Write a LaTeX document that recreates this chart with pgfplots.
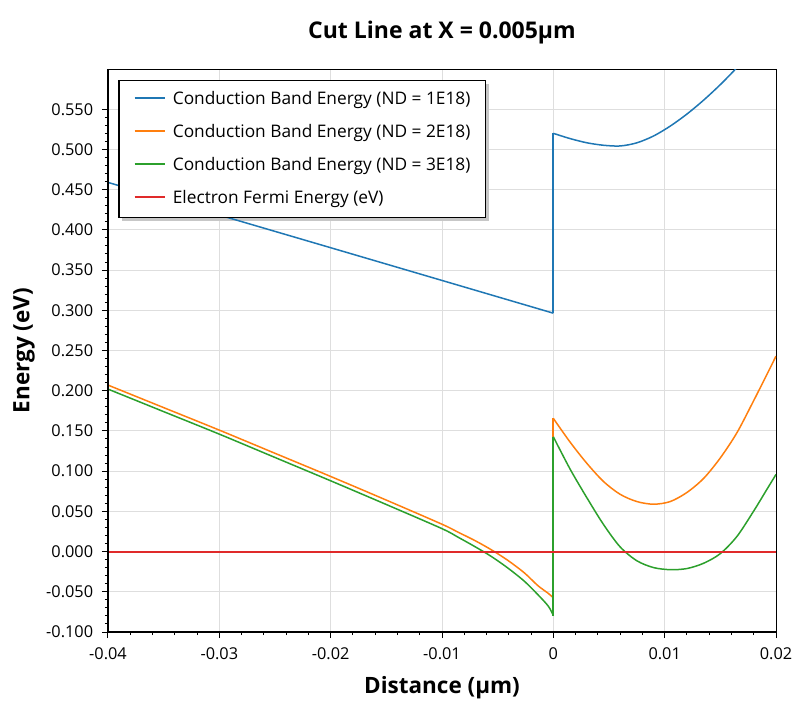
\documentclass[border=0pt]{standalone}
\usepackage{pgfplots}
\pgfplotsset{compat=1.18}
\usepackage{fontspec}
\setmainfont{Open Sans}
\definecolor{lnblue}{RGB}{31,119,180}
\definecolor{lnorange}{RGB}{255,127,14}
\definecolor{lngreen}{RGB}{44,160,44}
\definecolor{lnred}{RGB}{224,42,42}
\begin{document}
\begin{tikzpicture}
\begin{axis}[
  name=ax, at={(0,0)}, anchor=south west,
  scale only axis, width=668pt, height=563pt,
  xmin=-0.04, xmax=0.02, ymin=-0.1, ymax=0.6,
  scaled x ticks=false, scaled y ticks=false,
  xtick={-0.04,-0.03,-0.02,-0.01,0,0.01,0.02},
  xticklabels={-0.04,-0.03,-0.02,-0.01,0,0.01,0.02},
  ytick={-0.1,-0.05,0,0.05,0.1,0.15,0.2,0.25,0.3,0.35,0.4,0.45,0.5,0.55},
  yticklabels={-0.100,-0.050,0.000,0.050,0.100,0.150,0.200,0.250,0.300,0.350,0.400,0.450,0.500,0.550},
  minor x tick num=4, minor y tick num=4,
  tick align=outside, xtick pos=bottom, ytick pos=left,
  major tick length=6pt, minor tick length=3pt,
  tick style={black, line width=1pt},
  grid=major, major grid style={black!13, line width=1pt},
  axis line style={black, line width=1pt},
  ticklabel style={font=\fontsize{16.3}{16.3}\selectfont, inner sep=0pt},
  xticklabel style={yshift=-9pt},
  yticklabel style={xshift=-8.7pt},
  title={Cut Line at X = 0.005µm},
  title style={at={(axis description cs:0.5,1)}, anchor=base, yshift=24.5pt, font=\bfseries\fontsize{23}{23}\selectfont, inner sep=0pt},
  xlabel={Distance (µm)},
  xlabel style={at={(axis description cs:0.5,0)}, anchor=base, yshift=-61pt, font=\bfseries\fontsize{22.5}{22.5}\selectfont, inner sep=0pt},
  ylabel={Energy (eV)},
  ylabel style={at={(axis description cs:-0.1178,0.5)}, anchor=base, font=\bfseries\fontsize{22.5}{22.5}\selectfont, inner sep=0pt},
  legend image code/.code={\draw[#1] (0pt,6.5pt) -- (30pt,6.5pt);},
  legend style={at={(axis description cs:0.0154,0.9805)}, anchor=north west,
    draw=black, line width=1.3pt, fill=white,
    inner xsep=15pt, inner ysep=10pt, row sep=15.3pt, column sep=7.4pt,
    font=\fontsize{17.3}{17.3}\selectfont,
    cells={anchor=base west},
    nodes={inner sep=0pt, text height=13.7pt, text depth=4pt}},
]
% legend shadow
\fill[black!22] (rel axis cs:0.0214,0.7306) rectangle (rel axis cs:0.5704,0.9734);
% ND = 1E18
\addplot[draw=lnblue, line width=1.5pt, smooth] coordinates {(-0.04,0.459) (-0.03,0.4184) (-0.02,0.3778) (-0.01,0.3371) (0,0.2964)};
\addlegendentry{Conduction Band Energy (ND = 1E18)}
% ND = 2E18
\addplot[draw=lnorange, line width=1.5pt, smooth] coordinates {(-0.04,0.207) (-0.035,0.179) (-0.03,0.151) (-0.025,0.1222) (-0.02,0.0934) (-0.015,0.064) (-0.01,0.034) (-0.0086,0.0244) (-0.0071,0.0141) (-0.0056,0.0025) (-0.0041,-0.0108) (-0.0026,-0.0265) (-0.0014,-0.0422) (-0.00045,-0.052) (0,-0.0575)};
\addlegendentry{Conduction Band Energy (ND = 2E18)}
% ND = 3E18
\addplot[draw=lngreen, line width=1.5pt, smooth] coordinates {(-0.04,0.202) (-0.035,0.174) (-0.03,0.146) (-0.025,0.117) (-0.02,0.088) (-0.015,0.0585) (-0.01,0.0285) (-0.0086,0.0182) (-0.0071,0.0066) (-0.0056,-0.0058) (-0.0041,-0.0203) (-0.0026,-0.0369) (-0.0014,-0.0534) (-0.00045,-0.0679) (0,-0.0795)};
\addlegendentry{Conduction Band Energy (ND = 3E18)}
% Fermi
\addplot[draw=lnred, line width=2pt, legend image post style={line width=1.5pt}] coordinates {(-0.04,0) (0.02,0)};
\addlegendentry{Electron Fermi Energy (eV)}
% jumps and right parts
\addplot[draw=lnblue, line width=2pt, forget plot] coordinates {(0,0.2964) (0,0.520)};
\addplot[draw=lnblue, line width=1.5pt, smooth, forget plot] coordinates {(0,0.520) (0.0015,0.5135) (0.003,0.5083) (0.0045,0.5052) (0.006,0.5043) (0.0075,0.5082) (0.009,0.5167) (0.0105,0.529) (0.012,0.544) (0.0135,0.5613) (0.015,0.5806) (0.0165,0.6019) (0.018,0.625)};
\addplot[draw=lnorange, line width=2pt, forget plot] coordinates {(0,-0.0575) (0,0.1656)};
\addplot[draw=lnorange, line width=1.5pt, smooth, forget plot] coordinates {(0,0.1656) (0.0015,0.1362) (0.003,0.1099) (0.0045,0.0872) (0.006,0.0712) (0.0075,0.0622) (0.009,0.0589) (0.0105,0.0622) (0.012,0.0735) (0.0135,0.091) (0.015,0.1165) (0.0165,0.148) (0.018,0.1878) (0.0191,0.218) (0.02,0.243)};
\addplot[draw=lngreen, line width=2pt, forget plot] coordinates {(0,-0.0795) (0,0.1427)};
\addplot[draw=lngreen, line width=1.5pt, smooth, forget plot] coordinates {(0,0.1427) (0.0015,0.1027) (0.003,0.0672) (0.0045,0.0338) (0.006,0.0058) (0.0075,-0.0114) (0.009,-0.0199) (0.0105,-0.0225) (0.012,-0.0211) (0.0135,-0.0145) (0.015,-0.0025) (0.0165,0.019) (0.018,0.0505) (0.0191,0.0755) (0.02,0.0959)};
\addplot[draw=lnred, line width=2pt, forget plot] coordinates {(-0.04,0) (0.02,0)};
\end{axis}
\draw[black, line width=2pt] (ax.north west) -- (ax.south west) -- (ax.south east);
\pgfresetboundingbox
\useasboundingbox (-108pt,-78pt) rectangle (691pt,632pt);
\end{tikzpicture}
\end{document}
